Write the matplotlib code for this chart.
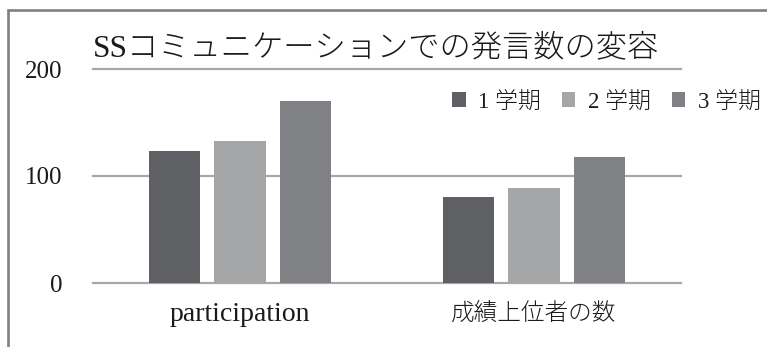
import numpy as np
import matplotlib.pyplot as plt
from matplotlib.lines import Line2D

fonts = ['Liberation Serif', 'Noto Sans CJK JP']
plt.rcParams['font.family'] = fonts

# Data
categories = ['participation', '成績上位者の数']
terms = ['1 学期', '2 学期', '3 学期']
term1 = [123, 80]
term2 = [133, 89]
term3 = [170, 118]
colors = ['#5f6064', '#a4a6a8', '#808184']
yticks = [0, 100, 200]

fig = plt.figure(figsize=(7.67, 3.47), dpi=100)
ax = fig.add_axes([93 / 767, 64 / 347, 588 / 767, 214 / 347])

x = np.arange(len(categories))
width = 0.1735
step = 0.222
bars = []
for i, vals in enumerate([term1, term2, term3]):
    b = ax.bar(x + (i - 1) * step, vals, width, color=colors[i], label=terms[i], zorder=3)
    bars.append(b)

ax.set_xlim(-0.5, len(categories) - 0.5)
ax.set_ylim(0, 200)
ax.set_yticks(yticks)
ax.set_yticklabels([str(v) for v in yticks], fontsize=18, color='#1a1a1a')
ax.set_xticks(x)
ax.set_xticklabels(categories, color='#1a1a1a')
xl = ax.get_xticklabels()
xl[0].set_fontsize(20)
xl[1].set_fontsize(17)
xl[1].set_fontweight('light')
ax.tick_params(axis='both', length=0)
ax.tick_params(axis='y', pad=22)
ax.tick_params(axis='x', pad=14)
for s in ax.spines.values():
    s.set_visible(False)
ax.grid(axis='y', color='#a8a8a8', linewidth=1.6)
ax.set_axisbelow(True)
for gl in ax.get_ygridlines():
    gl.set_clip_on(False)

# title
fig.text(93 / 767, 1 - 49 / 347, 'SSコミュニケーションでの発言数の変容',
         fontsize=22.5, fontweight='light', va='center', ha='left', color='#1a1a1a')

# legend
fig.legend(handles=bars, labels=terms, loc='center left',
           bbox_to_anchor=(452 / 767, 1 - 102 / 347), ncol=3, frameon=False,
           borderpad=0, borderaxespad=0, handlelength=0.6, handleheight=0.6,
           handletextpad=0.55, columnspacing=0.9,
           prop={'family': fonts, 'size': 16.5, 'weight': 'light'}, labelcolor='#1a1a1a')

# outer frame
fx = 8 / 767
fy = 1 - 10 / 347
fig.add_artist(Line2D([fx, fx, 1], [0, fy, fy], color='#808080', linewidth=1.9,
                      solid_joinstyle='miter', transform=fig.transFigure))

fig.savefig('out.png', dpi=100)
